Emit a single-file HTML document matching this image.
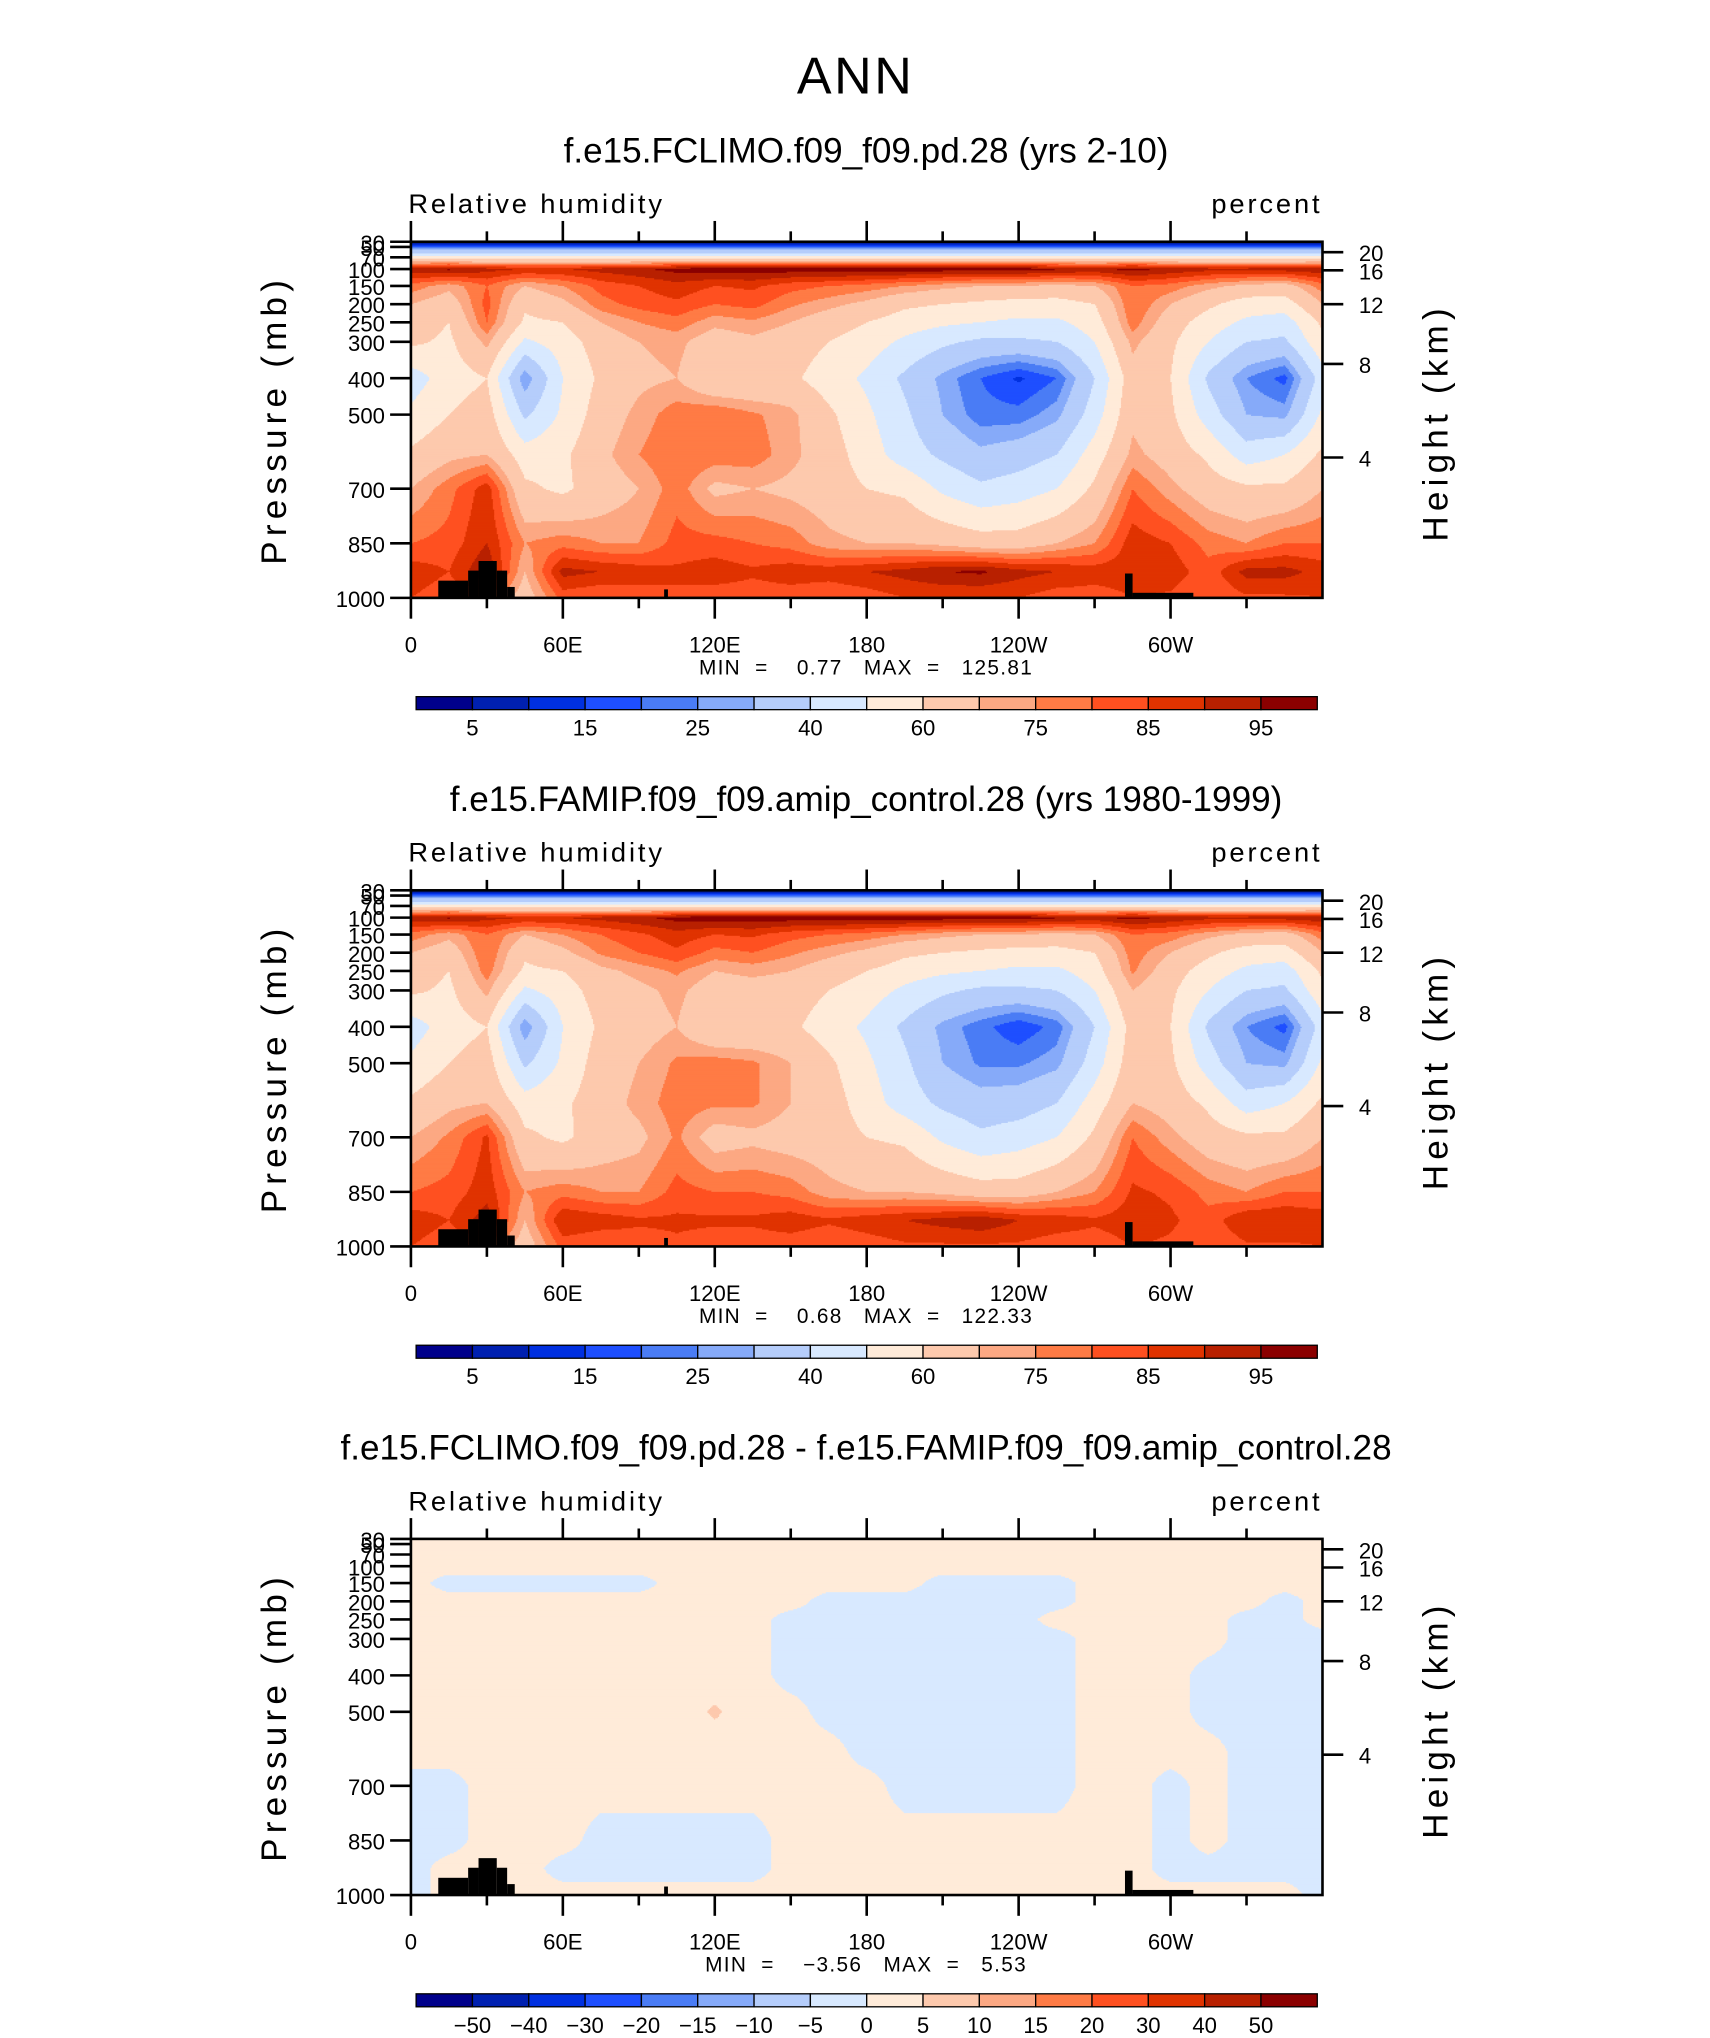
<!DOCTYPE html>
<html><head><meta charset="utf-8"><style>
html,body{margin:0;padding:0;background:#fff;}
svg{display:block;}
text{font-family:"Liberation Sans",sans-serif;fill:#000;}
</style></head><body>
<svg id="fig" width="1710" height="2038" viewBox="0 0 1315 1568" preserveAspectRatio="none" xmlns="http://www.w3.org/2000/svg">
<text x="658" y="72" font-size="40" text-anchor="middle" fill="#222" style="letter-spacing:2px">ANN</text>
</svg>
<script>
const palette=["#00008b","#0020b0","#0030e0","#1e4fff","#4a7cf5","#86aaf9","#b5cdfb","#d8e9ff","#ffebd9","#fdc9ad","#fca883","#ff7b45","#ff5020","#e03300","#b82000","#8b0000"];
const rhLevels=[5,10,15,20,25,30,40,50,60,70,75,80,85,90,95];
const rhLabels=["5","15","25","40","60","75","85","95"];
const diffLevels=[-50,-40,-30,-20,-15,-10,-5,0,5,10,15,20,30,40,50];
const diffLabels=["−50","−40","−30","−20","−15","−10","−5","0","5","10","15","20","30","40","50"];
const pLevels=[30,50,70,100,150,200,250,300,400,500,600,700,850,925,1000];
const lons=[0,15,30,45,60,75,90,105,120,135,150,165,180,195,210,225,240,255,270,285,300,315,330,345,360];
const rh1=[
[3,3,3,3,3,3,3,3,3,3,3,3,3,3,3,3,3,3,3,3,3,3,3,3,3],
[20,20,20,20,20,20,20,20,20,20,20,20,20,20,20,20,20,20,20,20,20,20,20,20,20],
[55,55,55,55,55,55,55,55,55,55,55,55,55,55,55,55,55,55,55,55,55,55,55,55,55],
[94,96,92,90,90,92,94,97,98,98,98,98,98,98,98,98,98,96,94,97,94,92,92,93,94],
[78,72,80,70,75,82,85,88,85,86,82,80,78,75,72,70,70,68,70,80,78,72,68,66,78],
[70,65,82,62,68,78,82,84,80,82,76,72,68,62,60,58,56,56,60,80,70,62,55,55,70],
[65,60,80,58,60,70,75,78,72,74,70,65,60,55,52,50,48,48,55,78,65,55,48,45,62],
[62,58,72,48,55,65,70,72,65,68,65,60,55,48,42,38,38,40,50,72,62,50,40,38,58],
[45,55,60,25,50,62,68,70,60,60,62,55,48,38,28,20,14,20,40,66,60,38,25,18,45],
[52,60,65,38,52,65,72,78,80,76,72,62,52,42,30,22,22,28,45,68,62,45,30,28,52],
[62,68,70,55,58,68,75,80,78,78,72,65,55,45,38,32,35,40,55,72,66,58,45,50,62],
[70,78,88,62,58,65,70,78,68,70,68,65,60,58,48,42,45,50,62,80,72,65,62,62,70],
[80,82,90,75,78,75,75,82,82,80,78,72,70,70,68,65,65,70,75,88,85,78,75,80,80],
[88,85,95,70,92,90,88,86,88,86,88,88,90,92,95,96,92,90,88,88,88,82,92,92,88],
[85,82,80,65,82,80,82,84,82,82,82,80,82,85,85,85,85,82,82,85,84,80,84,84,85]];
const rh2=[
[3,3,3,3,3,3,3,3,3,3,3,3,3,3,3,3,3,3,3,3,3,3,3,3,3],
[20,20,20,20,20,20,20,20,20,20,20,20,20,20,20,20,20,20,20,20,20,20,20,20,20],
[55,55,55,55,55,55,55,55,55,55,55,55,55,55,55,55,55,55,55,55,55,55,55,55,55],
[94,96,92,90,90,92,94,97,98,98,98,98,98,98,98,98,98,96,94,97,94,92,92,93,94],
[78,72,80,70,75,80,84,88,85,86,82,80,78,75,72,70,70,68,70,80,78,72,68,66,78],
[70,65,80,62,68,76,80,84,78,80,76,72,68,62,60,58,56,56,60,78,70,62,55,55,70],
[65,60,78,58,60,68,72,76,70,72,70,65,60,55,52,50,48,48,55,76,65,55,48,45,62],
[62,58,72,48,55,65,68,72,65,66,65,60,55,48,42,38,38,40,50,70,62,50,40,38,58],
[45,55,60,25,50,62,66,70,60,60,62,55,48,38,28,22,16,22,40,64,60,38,25,18,45],
[52,60,65,38,52,65,70,76,78,76,70,62,52,42,30,24,24,28,45,66,62,45,30,28,52],
[62,68,70,55,58,66,72,78,76,76,70,65,55,45,38,34,35,40,55,70,66,58,45,50,62],
[70,76,86,62,58,65,68,76,66,68,66,65,60,58,48,42,45,50,62,80,72,65,62,62,70],
[80,82,88,75,78,75,75,82,80,80,78,72,70,70,68,65,65,70,75,86,84,78,75,80,80],
[88,85,93,70,90,88,86,86,86,86,88,86,88,90,92,94,90,88,86,88,86,82,90,90,88],
[85,82,80,65,82,80,82,84,82,82,82,80,82,84,84,84,84,82,82,85,84,80,84,84,85]];
const diff=[
[1,1,1,1,1,1,1,1,1,1,1,1,1,1,1,1,1,1,1,1,1,1,1,1,1],
[1,1,1,1,1,1,1,1,1,1,1,1,1,1,1,1,1,1,1,1,1,1,1,1,1],
[1,1,1,1,1,1,1,1,1,1,1,1,1,1,1,1,1,1,1,1,1,1,1,1,1],
[1,1,1,1,1,1,1,1,1,1,1,1,1,1,1,1,1,1,1,1,1,1,1,1,1],
[1,-1,-1,-1,-1,-1,-1,1,1,1,1,1,1,1,-1,-1,-1,-1,1,1,1,1,1,1,1],
[1,1,1,1,1,1,1,1,1,1,1,-1,-1,-1,-1,-1,-1,-1,1,1,1,1,1,-1,1],
[1,1,1,1,1,1,1,1,1,1,-1,-1,-1,-1,-1,-1,-1,1,1,1,1,1,-1,-1,1],
[1,1,1,1,1,1,1,1,1,1,-1,-1,-1,-1,-1,-1,-1,-1,1,1,1,1,-1,-1,-1],
[1,1,1,1,1,1,1,1,1,1,-1,-1,-1,-1,-1,-1,-1,-1,1,1,1,-1,-1,-1,-1],
[1,1,1,1,1,1,1,1,6,1,1,-1,-1,-1,-1,-1,-1,-1,1,1,1,-1,-1,-1,-1],
[1,1,1,1,1,1,1,1,1,1,1,1,-1,-1,-1,-1,-1,-1,1,1,1,1,-1,-1,-1],
[-1,-1,1,1,1,1,1,1,1,1,1,1,1,-1,-1,-1,-1,-1,1,1,-1,1,-1,-1,-1],
[-1,-1,1,1,1,-1,-1,-1,-1,-1,1,1,1,1,1,1,1,1,1,1,-1,1,-1,-1,-1],
[-1,1,1,1,-1,-1,-1,-1,-1,-1,1,1,1,1,1,1,1,1,1,1,-1,-1,-1,-1,-1],
[-1,1,1,1,1,1,1,1,1,1,1,1,1,1,1,1,1,1,1,1,1,1,1,1,-1]];
const topoStart=[10.8,22.6,26.7,33.9,38,100,282,285];
const topoEnd=[22.6,26.7,33.9,38,41,101.5,285,309];
const topoTop=[950,922,896,922,968,975,930,985];
const titles=["f.e15.FCLIMO.f09_f09.pd.28 (yrs 2-10)","f.e15.FAMIP.f09_f09.amip_control.28 (yrs 1980-1999)","f.e15.FCLIMO.f09_f09.pd.28 - f.e15.FAMIP.f09_f09.amip_control.28"];
const minmax=[["0.77","125.81"],["0.68","122.33"],["−3.56","5.53"]];
const pTicks=[30,50,70,100,150,200,250,300,400,500,700,850,1000];
const hTicks=["20","16","12","8","4"];
const hTickY=[8,22,48,94,166];
const xTickLabels=["0","60E","120E","180","120W","60W"];

const NS="http://www.w3.org/2000/svg";
const svg=document.getElementById("fig");
const X0=316,X1=1017,PH=274;
const pOff=[0,4,12,21,34,48,62,77,105,133,190,232,274];
function el(tag,attrs,parent){const e=document.createElementNS(NS,tag);for(const k in attrs)e.setAttribute(k,attrs[k]);(parent||svg).appendChild(e);return e;}
function xOf(lon){return X0+lon/360*(X1-X0);}
function yOf(p,top){
  for(let i=0;i<pTicks.length-1;i++){
    if(p>=pTicks[i]&&p<=pTicks[i+1]){
      const t=(Math.log(p)-Math.log(pTicks[i]))/(Math.log(pTicks[i+1])-Math.log(pTicks[i]));
      return top+pOff[i]+t*(pOff[i+1]-pOff[i]);
    }
  }
  return p<30?top:top+PH;
}
function colorIdx(v,lv){let i=0;while(i<lv.length&&v>=lv[i])i++;return i;}

function drawField(grid,lv,top,g){
  const ry=pLevels.map(p=>yOf(p,top));
  for(let py=0;py<PH;py++){
    const yc=top+py+0.5;
    let r=0;while(r<ry.length-2&&yc>ry[r+1])r++;
    let f=(yc-ry[r])/(ry[r+1]-ry[r]);f=Math.max(0,Math.min(1,f));
    let runStart=0,runC=-1;
    const W=X1-X0;
    for(let px=0;px<=W;px++){
      let c=-1;
      if(px<W){
        const lon=(px+0.5)/W*360;const cc=lon/15;let ci=Math.min(Math.floor(cc),lons.length-2);const g2=cc-ci;
        const v=(1-f)*((1-g2)*grid[r][ci]+g2*grid[r][ci+1])+f*((1-g2)*grid[r+1][ci]+g2*grid[r+1][ci+1]);
        c=colorIdx(v,lv);
      }
      if(c!==runC){
        if(runC>=0){
          const rc=el("rect",{x:X0+runStart,y:top+py,width:px-runStart+0.6,height:1.6,fill:palette[runC]},g);
          
          
        }
        runStart=px;runC=c;
      }
    }
  }
}

function drawPanel(k,grid,lv,labels,labelsAll){
  const off=k*499;const top=186+off;
  const t=el("text",{x:666,y:125+off,"font-size":27,"text-anchor":"middle"});t.textContent=titles[k];
  
  const l=el("text",{x:314,y:164+off,"font-size":21,style:"letter-spacing:2.2px"});l.textContent="Relative humidity";
  
  const u=el("text",{x:1017,y:164+off,"font-size":21,"text-anchor":"end",style:"letter-spacing:2.2px"});u.textContent="percent";
  
  const g=el("g",{});
  drawField(grid,lv,top,g);
  for(let i=0;i<topoStart.length;i++){
    const y=yOf(topoTop[i],top);
    const r=el("rect",{x:xOf(topoStart[i]),y:y,width:xOf(topoEnd[i])-xOf(topoStart[i]),height:top+PH-y,fill:"#000"});
    
  }
  const fr=el("rect",{x:X0,y:top,width:X1-X0,height:PH,fill:"none",stroke:"#000","stroke-width":2});
  
  for(let lon=0;lon<=330;lon+=30){
    const major=lon%60===0;const x=xOf(lon);
    el("line",{x1:x,y1:top,x2:x,y2:top-(major?16:8),stroke:"#000","stroke-width":2});
    el("line",{x1:x,y1:top+PH,x2:x,y2:top+PH+(major?16:8),stroke:"#000","stroke-width":2});
    if(major){const tl=el("text",{x:x,y:top+PH+42,"font-size":17,"text-anchor":"middle"});tl.textContent=xTickLabels[lon/60];
      }
  }
  pTicks.forEach(p=>{const y=yOf(p,top);
    el("line",{x1:X0,y1:y,x2:X0-16,y2:y,stroke:"#000","stroke-width":2});
    const tl=el("text",{x:X0-20,y:y+7,"font-size":17,"text-anchor":"end"});tl.textContent=String(p);
    });
  hTicks.forEach((h,i)=>{const y=top+hTickY[i];
    el("line",{x1:X1,y1:y,x2:X1+16,y2:y,stroke:"#000","stroke-width":2});
    const tl=el("text",{x:X1+28,y:y+7,"font-size":17});tl.textContent=h;
    });
  const ya=el("text",{x:0,y:0,"font-size":27,"text-anchor":"middle",transform:`translate(220,${top+137}) rotate(-90)`,style:"letter-spacing:4px"});ya.textContent="Pressure (mb)";
  
  const ya2=el("text",{x:0,y:0,"font-size":27,"text-anchor":"middle",transform:`translate(1113,${top+139}) rotate(-90)`,style:"letter-spacing:4px"});ya2.textContent="Height (km)";
  
  const mm=el("text",{x:666,y:top+333,"font-size":16,"text-anchor":"middle",style:"white-space:pre;letter-spacing:1px"});
  mm.textContent=`MIN  =    ${minmax[k][0]}   MAX  =   ${minmax[k][1]}`;
  
  const cbY=536+off,cbX=320,cbW=693,bw=cbW/16;
  for(let i=0;i<16;i++){
    const b=el("rect",{x:cbX+i*bw,y:cbY,width:bw,height:10,fill:palette[i],stroke:"#000","stroke-width":1});
    
  }
  labels.forEach((s,i)=>{const bi=labelsAll?i+1:2*i+1;
    const tl=el("text",{x:cbX+bi*bw,y:cbY+30,"font-size":17,"text-anchor":"middle"});tl.textContent=s;
    });
}
drawPanel(0,rh1,rhLevels,rhLabels,false);
drawPanel(1,rh2,rhLevels,rhLabels,false);
drawPanel(2,diff,diffLevels,diffLabels,true);
</script>
</body></html>
